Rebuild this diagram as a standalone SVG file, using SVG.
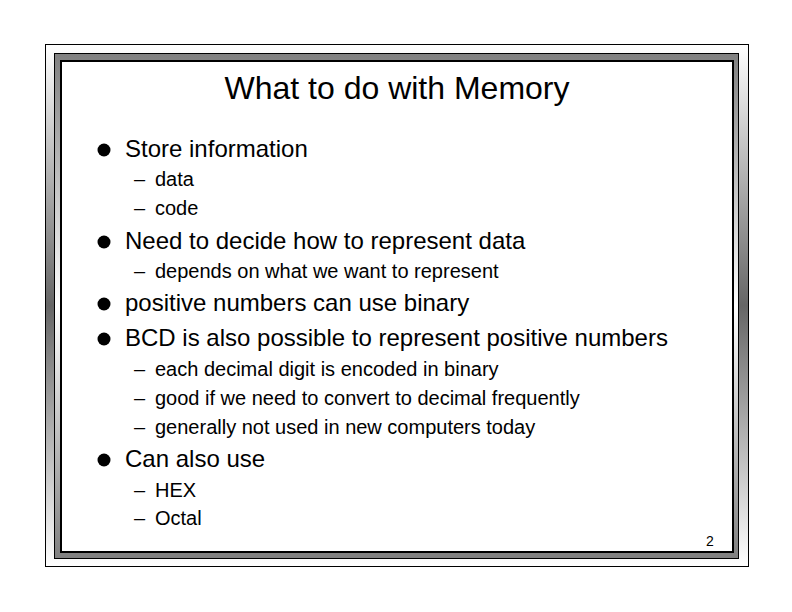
<svg xmlns="http://www.w3.org/2000/svg" width="792" height="612" viewBox="0 0 792 612">
<defs>
<linearGradient id="outerBand" x1="0" y1="0" x2="0" y2="1">
<stop offset="0" stop-color="#ffffff"/>
<stop offset="0.5" stop-color="#666666"/>
<stop offset="1" stop-color="#ffffff"/>
</linearGradient>
<linearGradient id="innerBand" x1="0" y1="0" x2="0" y2="1">
<stop offset="0" stop-color="#808080"/>
<stop offset="0.5" stop-color="#ffffff"/>
<stop offset="1" stop-color="#808080"/>
</linearGradient>
<style>
text{font-family:"Liberation Sans",Arial,Helvetica,sans-serif;fill:#000}
.t{font-size:32px}
.l1{font-size:24px}
.l2{font-size:20px}
.d{font-size:20px}
.pg{font-size:14px}
</style>
</defs>
<rect width="792" height="612" fill="#fff"/>
<g id="frame">
<rect x="45.5" y="44.5" width="703" height="522" fill="url(#outerBand)" stroke="#000" stroke-width="1"/>
<rect x="54.5" y="53.5" width="684" height="505" fill="url(#innerBand)" stroke="#000" stroke-width="1"/>
<rect x="61" y="61" width="672" height="491" fill="#fff" stroke="#000" stroke-width="2"/>
</g>
<g id="title">
<text class="t" x="397" y="99" text-anchor="middle">What to do with Memory</text>
</g>
<g id="bullets">
<circle cx="104" cy="150" r="6.5"/>
<circle cx="104" cy="242" r="6.5"/>
<circle cx="104" cy="304" r="6.5"/>
<circle cx="104" cy="339" r="6.5"/>
<circle cx="104" cy="460" r="6.5"/>
</g>
<g id="dashes">
<text class="d" x="134" y="186">–</text>
<text class="d" x="134" y="215">–</text>
<text class="d" x="134" y="278">–</text>
<text class="d" x="134" y="376">–</text>
<text class="d" x="134" y="405">–</text>
<text class="d" x="134" y="434">–</text>
<text class="d" x="134" y="497">–</text>
<text class="d" x="134" y="525">–</text>
</g>
<g id="items">
<text class="l1" x="125" y="157">Store information</text>
<text class="l2" x="155" y="186">data</text>
<text class="l2" x="155" y="215">code</text>
<text class="l1" x="125" y="249">Need to decide how to represent data</text>
<text class="l2" x="155" y="278">depends on what we want to represent</text>
<text class="l1" x="125" y="311">positive numbers can use binary</text>
<text class="l1" x="125" y="346">BCD is also possible to represent positive numbers</text>
<text class="l2" x="155" y="376">each decimal digit is encoded in binary</text>
<text class="l2" x="155" y="405">good if we need to convert to decimal frequently</text>
<text class="l2" x="155" y="434">generally not used in new computers today</text>
<text class="l1" x="125" y="467">Can also use</text>
<text class="l2" x="155" y="497">HEX</text>
<text class="l2" x="155" y="525">Octal</text>
</g>
<g id="page">
<text class="pg" x="706" y="546">2</text>
</g>
</svg>
